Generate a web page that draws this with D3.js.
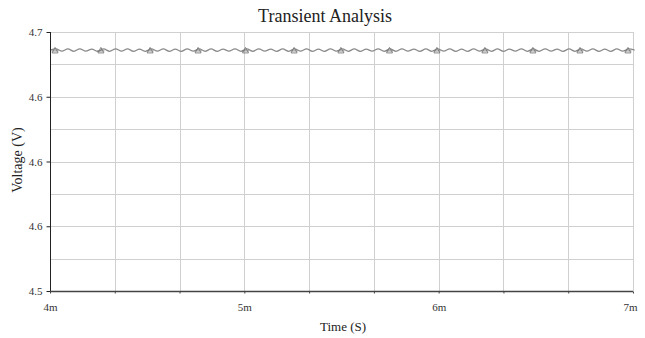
<!DOCTYPE html>
<html>
<head>
<meta charset="utf-8">
<script src="https://cdn.jsdelivr.net/npm/d3@7"></script>
<style>
  body { margin: 0; background: #fff; }
  svg text { font-family: "Liberation Serif", "Times New Roman", "DejaVu Serif", serif !important; }
</style>
</head>
<body>
<div class="graph"></div>
<script>
// data
var xMajor = [4, 5, 6, 7]
var xLabels = ['4m', '5m', '6m', '7m']
var xMinor = [4.3333, 4.6667, 5.3333, 5.6667, 6.3333, 6.6667]
var yMajor = [4.5, 4.55, 4.6, 4.65, 4.7]
var yLabels = ['4.5', '4.6', '4.6', '4.6', '4.7']
var yMinor = [4.525, 4.575, 4.625, 4.675]

// ripple samples, peak / trough every half period (ms)
var sampleStart = 4.0
var sampleStep = 0.0307
var rippleV = [
  4.6860, 4.6870, 4.6852, 4.6869, 4.6851, 4.6870, 4.6852, 4.6868, 4.6851, 4.6869,
  4.6851, 4.6870, 4.6852, 4.6869, 4.6851, 4.6868, 4.6851, 4.6870, 4.6852, 4.6869,
  4.6851, 4.6868, 4.6851, 4.6869, 4.6852, 4.6870, 4.6851, 4.6869, 4.6851, 4.6868,
  4.6852, 4.6870, 4.6851, 4.6869, 4.6851, 4.6870, 4.6852, 4.6868, 4.6851, 4.6869,
  4.6851, 4.6870, 4.6852, 4.6869, 4.6851, 4.6868, 4.6851, 4.6869, 4.6852, 4.6870,
  4.6851, 4.6869, 4.6851, 4.6868, 4.6852, 4.6870, 4.6851, 4.6869, 4.6851, 4.6870,
  4.6852, 4.6868, 4.6851, 4.6869, 4.6851, 4.6870, 4.6852, 4.6869, 4.6851, 4.6868,
  4.6851, 4.6869, 4.6852, 4.6870, 4.6851, 4.6869, 4.6851, 4.6868, 4.6852, 4.6870,
  4.6851, 4.6869, 4.6851, 4.6870, 4.6852, 4.6868, 4.6851, 4.6869, 4.6851, 4.6870,
  4.6852, 4.6869, 4.6851, 4.6868, 4.6851, 4.6869, 4.6852, 4.6870, 4.6860
]
var markerT = [4.026, 4.262, 4.515, 4.762, 5.006, 5.256, 5.497, 5.747, 5.991, 6.238, 6.485, 6.727, 6.974]
var markerV = 4.6854

var basewidth = 645, baseheight = 338
var margin = { top: 32, right: 12, bottom: 47, left: 50 },
    width = basewidth - margin.left - margin.right,
    height = baseheight - margin.top - margin.bottom
var serif = '"Liberation Serif", "Times New Roman", serif'

var svg = d3.select('.graph')
    .append('svg')
    .attr('width', basewidth)
    .attr('height', baseheight)
var canvas = svg.append('g')
    .attr('transform', 'translate(' + margin.left + ',' + margin.top + ')')

var x = d3.scaleLinear().domain([4, 7]).range([0, width])
var y = d3.scaleLinear().domain([4.5, 4.7]).range([height, 0])

// grid
var grid = canvas.append('g').attr('stroke', '#d0d0d0').attr('stroke-width', 1)
grid.selectAll('.hg').data(yMajor.concat(yMinor)).enter().append('line')
    .attr('x1', 0).attr('x2', width)
    .attr('y1', d => Math.round(y(d)) + 0.5).attr('y2', d => Math.round(y(d)) + 0.5)
grid.selectAll('.vg').data(xMajor.concat(xMinor)).enter().append('line')
    .attr('y1', 0).attr('y2', height)
    .attr('x1', d => Math.round(x(d)) + 0.5).attr('x2', d => Math.round(x(d)) + 0.5)

// waveform
var line = d3.line()
    .x((d, i) => x(sampleStart + i * sampleStep))
    .y(d => y(d))
    .curve(d3.curveMonotoneX)
canvas.append('path')
    .datum(rippleV)
    .attr('d', line)
    .attr('fill', 'none')
    .attr('stroke', '#8a8a8a')
    .attr('stroke-width', 1.2)

canvas.selectAll('.mk').data(markerT).enter().append('path')
    .attr('transform', d => 'translate(' + x(d) + ',' + y(markerV) + ')')
    .attr('d', 'M0,-3.5 L3,2 L-3,2 Z M-3.5,0 L3.5,0')
    .attr('fill', 'none')
    .attr('stroke', '#777')
    .attr('stroke-width', 0.9)

// left axis
var yAxis = d3.axisLeft(y).tickValues(yMajor).tickSize(4)
    .tickFormat((d, i) => yLabels[i])
var ya = canvas.append('g').attr('transform', 'translate(0.5,0)').call(yAxis)
    .attr('font-family', serif)
ya.select('.domain').attr('stroke', '#222').attr('d', 'M0,0V' + height)
ya.selectAll('.tick line').attr('stroke', '#222')
ya.selectAll('.tick text').attr('font-size', 11).attr('dx', -1).attr('fill', '#333')

// bottom axis
var xAxis = d3.axisBottom(x).tickValues(xMajor.concat(xMinor)).tickSize(2)
    .tickFormat(d => { var k = xMajor.indexOf(d); return k < 0 ? '' : xLabels[k] })
var xa = canvas.append('g').attr('transform', 'translate(0,' + (height + 0.5) + ')').call(xAxis)
    .attr('font-family', serif)
xa.select('.domain').attr('stroke', '#444').attr('stroke-width', 1.6).attr('d', 'M0,0H' + width)
xa.selectAll('.tick line').attr('stroke', '#444')
xa.selectAll('.tick text').attr('font-size', 11).attr('dy', '1.3em').attr('fill', '#333')
xa.selectAll('.tick text').filter(d => d === 7).attr('dx', -3)

// titles
svg.append('text')
    .attr('x', 325).attr('y', 22)
    .attr('text-anchor', 'middle')
    .attr('font-family', serif)
    .attr('font-size', 18)
    .attr('fill', '#222')
    .text('Transient Analysis')
svg.append('text')
    .attr('x', 343).attr('y', 331)
    .attr('text-anchor', 'middle')
    .attr('font-family', serif)
    .attr('font-size', 13)
    .attr('fill', '#222')
    .text('Time (S)')
svg.append('text')
    .attr('transform', 'translate(22,160) rotate(-90)')
    .attr('text-anchor', 'middle')
    .attr('font-family', serif)
    .attr('font-size', 14)
    .attr('fill', '#222')
    .text('Voltage (V)')
</script>
</body>
</html>
